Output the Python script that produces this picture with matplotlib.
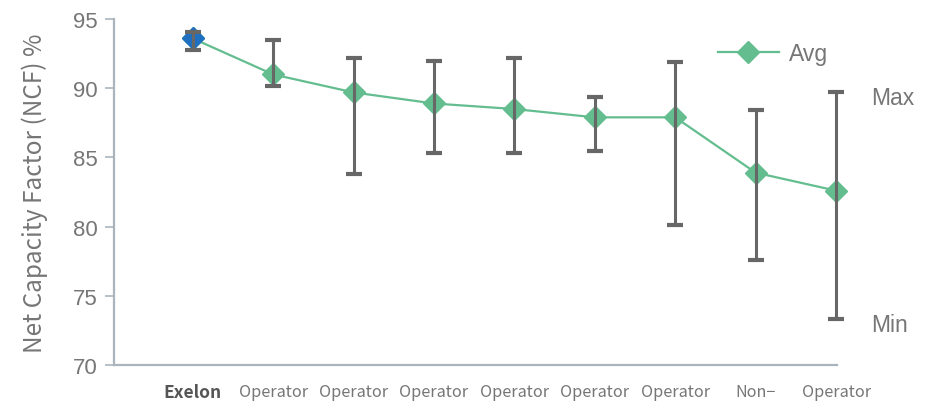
import matplotlib
matplotlib.use('Agg')
import matplotlib.pyplot as plt

# Net capacity factor by operator
labels = ['Exelon', 'Operator', 'Operator', 'Operator', 'Operator',
          'Operator', 'Operator', 'Non\u2212', 'Operator']
avg = [93.6, 91.0, 89.7, 88.9, 88.5, 87.9, 87.9, 83.9, 82.6]
max_v = [94.1, 93.5, 92.2, 92.0, 92.2, 89.4, 91.9, 88.4, 89.7]
min_v = [92.8, 90.2, 83.8, 85.3, 85.3, 85.5, 80.1, 77.6, 73.3]

GREEN = '#63bd8f'
BLUE = '#1f70c1'
BAR = '#676767'
AXIS = '#aab4bd'
TXT = '#767676'

def main():
  fig = plt.figure(figsize=(9.28, 4.06), dpi=100)
  ax = fig.add_axes([0.1228, 0.0985, 0.779, 0.852])

  x = list(range(len(labels)))

  # average line + diamonds
  ax.plot(x, avg, color=GREEN, lw=1.6, marker='D', ms=11.5,
          mfc=GREEN, mec=GREEN, zorder=2, label='Avg', clip_on=False)
  ax.plot(x[:1], avg[:1], ls='none', marker='D', ms=11.5,
          mfc=BLUE, mec=BLUE, zorder=3, clip_on=False)

  # min / max whiskers
  lower = [a - lo for a, lo in zip(avg, min_v)]
  upper = [hi - a for a, hi in zip(avg, max_v)]
  eb = ax.errorbar(x, avg, yerr=[lower, upper], fmt='none', ecolor=BAR,
                   elinewidth=2.2, capsize=5.5, capthick=3, zorder=4)
  for c in eb.lines[1]:
    c.set_clip_on(False)
  for c in eb.lines[2]:
    c.set_clip_on(False)

  ax.text(x[-1] + 0.44, max_v[-1] - 0.35, 'Max', fontsize=16.5, color=TXT,
          va='center', ha='left', family='Liberation Sans')
  ax.text(x[-1] + 0.44, min_v[-1] - 0.4, 'Min', fontsize=16.5, color=TXT,
          va='center', ha='left', family='Liberation Sans')

  ax.set_xlim(-0.98, 8.01)
  ax.set_ylim(70, 95)
  ax.set_yticks([70, 75, 80, 85, 90, 95])
  ax.set_xticks(x)
  ax.set_xticklabels(labels, family=['Noto Sans CJK JP', 'DejaVu Sans'],
                     fontsize=11.7, color=TXT)
  tl = ax.get_xticklabels()
  tl[0].set_fontweight('bold')
  tl[0].set_fontsize(12.5)
  tl[0].set_color('#555555')

  for lab in ax.get_yticklabels():
    lab.set_family('Liberation Sans')
  ax.tick_params(axis='y', labelsize=16, labelcolor=TXT, color=AXIS,
                 length=6.5, width=1.2, pad=5)
  ax.tick_params(axis='x', length=0, pad=13)

  ax.set_ylabel('Net Capacity Factor (NCF) %', fontsize=17.5, color=TXT,
                family=['Noto Sans CJK JP', 'DejaVu Sans'], labelpad=18)

  for s in ['top', 'right']:
    ax.spines[s].set_visible(False)
  for s in ['left', 'bottom']:
    ax.spines[s].set_color(AXIS)
    ax.spines[s].set_linewidth(1.6)

  leg = ax.legend(loc='center left', bbox_to_anchor=(0.835, 0.9),
                  frameon=False, fontsize=16.5, handlelength=2.66,
                  handletextpad=0.45, borderpad=0, borderaxespad=0)
  for t in leg.get_texts():
    t.set_color(TXT)
    t.set_family('Liberation Sans')

  fig.savefig('out.png', dpi=100)

if __name__ == '__main__':
  main()
